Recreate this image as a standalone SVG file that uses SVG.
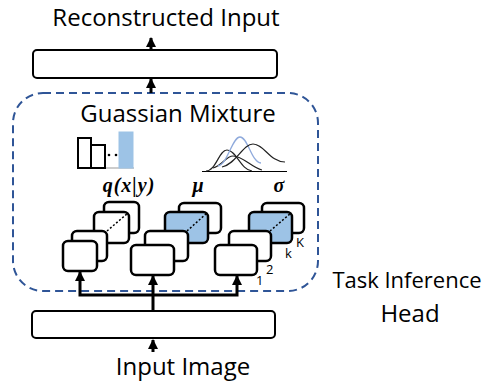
<svg xmlns="http://www.w3.org/2000/svg" width="487" height="383" viewBox="0 0 487 383">
<style>
.t{font-family:"Open Sans","Liberation Sans",sans-serif;font-size:24px;fill:#000}
.s{font-family:"Open Sans","Liberation Sans",sans-serif;font-size:13px;fill:#000}
.m{font-family:"Liberation Serif","DejaVu Serif",serif;font-size:20px;font-weight:bold;font-style:italic;fill:#000}
.box{fill:#fff;stroke:#000;stroke-width:2}
.card{fill:#fff;stroke:#000;stroke-width:2.5}
.blue{fill:#9DC3E6;stroke:#000;stroke-width:2.5}
.dot{stroke:#000;stroke-width:1.5;stroke-dasharray:2 2;fill:none}
.con{stroke:#000;stroke-width:3;fill:none}
.g{fill:none;stroke:#222;stroke-width:1.2}
</style>
<defs>
<marker id="ah" markerUnits="userSpaceOnUse" markerWidth="10" markerHeight="10" viewBox="0 0 10 10" refX="9" refY="5" orient="auto-start-reverse">
<path d="M0,0 L10,5 L0,10 Z" fill="#000"/>
</marker>
</defs>

<g id="title">
<text class="t" x="166" y="26" text-anchor="middle">Reconstructed Input</text>
</g>

<g id="decoder">
<rect class="box" x="33" y="50" width="244" height="28" rx="4"/>
</g>

<g id="task-head">
<rect x="13" y="93" width="305" height="198" rx="30" fill="none" stroke="#2F5597" stroke-width="2" stroke-dasharray="8 5"/>
<text class="t" x="178" y="122" text-anchor="middle">Guassian Mixture</text>
</g>

<g id="bar-chart">
<line x1="77" y1="168" x2="134" y2="168" stroke="#999" stroke-width="1"/>
<rect x="78" y="138" width="13" height="30" fill="#fff" stroke="#000" stroke-width="2"/>
<rect x="91" y="145" width="14" height="23" fill="#fff" stroke="#000" stroke-width="2"/>
<circle cx="109" cy="155" r="1.3" fill="#000"/>
<circle cx="116" cy="155" r="1.3" fill="#000"/>
<rect x="119" y="132" width="14" height="36" fill="#9DC3E6" stroke="#9DC3E6" stroke-width="1"/>
</g>

<g id="gaussians">
<line x1="202" y1="171.5" x2="287" y2="171.5" stroke="#000" stroke-width="1.2"/>
<path class="g" d="M206,171 C216,171 219,150 227,150 C236,150 241,170 252,171"/>
<path class="g" d="M213,168 C222,166 226,156 233,156 C243,156 252,168 262,170"/>
<path d="M218,166 C228,164 232,137 240,137 C248,137 251,162 261,163" fill="none" stroke="#8FAADC" stroke-width="1.3"/>
<path class="g" d="M222,167 C236,164 243,144 253,144 C264,144 270,162 285,162"/>
</g>

<g id="labels-math">
<text class="m" x="129" y="192" text-anchor="middle" letter-spacing="1">q(x|y)</text>
<text class="m" x="198" y="192" text-anchor="middle">μ</text>
<text class="m" x="279" y="192" text-anchor="middle">σ</text>
</g>

<g id="stack-q">
<rect class="card" x="104" y="202" width="35" height="31" rx="5"/>
<rect class="card" x="94" y="212" width="35" height="31" rx="5"/>
<rect class="card" x="72" y="231" width="35" height="30" rx="5"/>
<rect class="card" x="63" y="241" width="34" height="30" rx="5"/>
<line class="dot" x1="107" y1="231" x2="128" y2="213"/>
</g>

<g id="stack-mu">
<rect class="card" x="179" y="203" width="42" height="30" rx="5"/>
<rect class="blue" x="165" y="212" width="43" height="31" rx="5"/>
<rect class="card" x="145" y="231" width="43" height="30" rx="5"/>
<rect class="card" x="131" y="245" width="43" height="30" rx="5"/>
<line class="dot" x1="187" y1="231" x2="207" y2="213"/>
</g>

<g id="stack-sigma">
<rect class="card" x="262" y="203" width="42" height="30" rx="5"/>
<rect class="blue" x="249" y="212" width="43" height="31" rx="5"/>
<rect class="card" x="229" y="231" width="42" height="30" rx="5"/>
<rect class="card" x="215" y="245" width="42" height="30" rx="5"/>
<line class="dot" x1="270" y1="231" x2="291" y2="213"/>
<text class="s" x="296" y="247">K</text>
<text class="s" x="285" y="258">k</text>
<text class="s" x="266" y="274">2</text>
<text class="s" x="256" y="285">1</text>
</g>

<g id="encoder">
<rect class="box" x="32" y="311" width="243" height="27" rx="4"/>
</g>

<g id="labels">
<text class="t" x="183" y="375" text-anchor="middle">Input Image</text>
<text class="t" x="407" y="288" text-anchor="middle" style="font-size:22px">Task Inference</text>
<text class="t" x="410" y="322" text-anchor="middle">Head</text>
</g>

<g id="connectors">
<line class="con" x1="151" y1="50" x2="151" y2="38" stroke-width="2.5" marker-end="url(#ah)"/>
<line class="con" x1="151" y1="93" x2="151" y2="79" stroke-width="2.5" marker-end="url(#ah)"/>
<line class="con" x1="153" y1="352" x2="153" y2="340" stroke-width="2.5" marker-end="url(#ah)"/>
<line class="con" x1="153" y1="311" x2="153" y2="276" marker-end="url(#ah)"/>
<polyline class="con" points="80,272 80,295 237,295 237,276" marker-start="url(#ah)" marker-end="url(#ah)"/>
</g>
</svg>
